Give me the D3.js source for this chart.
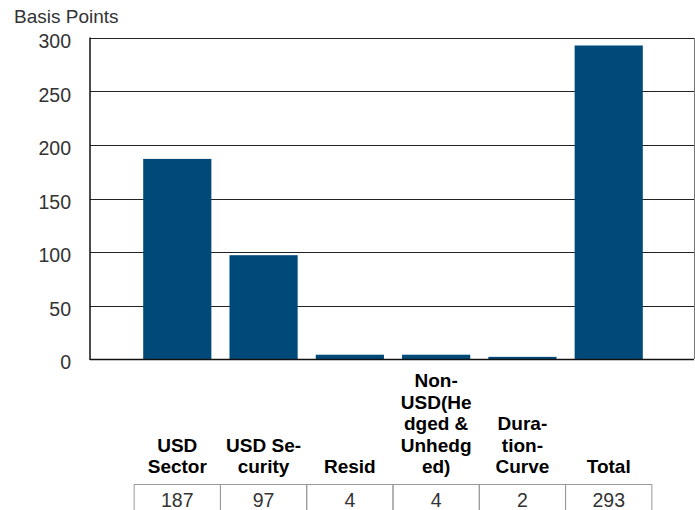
<!DOCTYPE html>
<html>
<head>
<meta charset="utf-8">
<script src="https://cdn.jsdelivr.net/npm/d3@7"></script>
<style>
  body { margin: 0; background: #fff; }
  text { font-family: "Liberation Sans", Arial, Helvetica, sans-serif; }
</style>
</head>
<body>
<script>
var width = 695, height = 510;

// data
var categories = ["USD Sector", "USD Security", "Resid", "Non-USD(Hedged & Unhedged)", "Duration-Curve", "Total"];
var headerLines = [["USD", "Sector"], ["USD Se-", "curity"], ["Resid"], ["Non-", "USD(He", "dged &", "Unhedg", "ed)"], ["Dura-", "tion-", "Curve"], ["Total"]];
var values = [187, 97, 4, 4, 2, 293];
var yTicks = [0, 50, 100, 150, 200, 250, 300];
var yTitle = "Basis Points";

var plotLeft = 90, plotRight = 694, plotTop = 38, plotBottom = 359;

var x = d3.scaleBand()
  .domain(categories)
  .range([plotLeft + 1, plotRight + 1])
  .paddingInner(0.21)
  .paddingOuter(0.605);

var y = d3.scaleLinear()
  .domain([0, 300])
  .range([plotBottom, plotTop]);

var svg = d3.select("body")
  .append("svg")
  .attr("width", width)
  .attr("height", height);

// grid lines
svg.selectAll(".grid")
  .data(yTicks)
  .enter()
  .append("line")
  .attr("class", "grid")
  .attr("x1", plotLeft)
  .attr("x2", plotRight)
  .attr("y1", function(d) { return Math.round(y(d)) + 0.5 })
  .attr("y2", function(d) { return Math.round(y(d)) + 0.5 })
  .attr("stroke", "#222")
  .attr("stroke-width", 1);

// right border
svg.append("line")
  .attr("x1", plotRight + 0.5).attr("x2", plotRight + 0.5)
  .attr("y1", plotTop).attr("y2", plotBottom)
  .attr("stroke", "#777");

// bars
svg.selectAll(".bar")
  .data(values)
  .enter()
  .append("rect")
  .attr("class", "bar")
  .attr("x", function(d, i) { return x(categories[i]) })
  .attr("width", x.bandwidth())
  .attr("y", function(d) { return y(d) })
  .attr("height", function(d) { return y(0) - y(d) })
  .attr("fill", "#004a7a");

// axis lines
svg.append("line")
  .attr("x1", plotLeft).attr("x2", plotLeft)
  .attr("y1", plotTop - 0.5).attr("y2", plotBottom + 1)
  .attr("stroke", "#111").attr("stroke-width", 1.5);
svg.append("line")
  .attr("x1", plotLeft).attr("x2", plotRight)
  .attr("y1", plotBottom + 0.5).attr("y2", plotBottom + 0.5)
  .attr("stroke", "#111").attr("stroke-width", 1.5);

// y tick labels
svg.selectAll(".ylab")
  .data(yTicks)
  .enter()
  .append("text")
  .attr("class", "ylab")
  .attr("x", 71)
  .attr("y", function(d) { return y(d) + 10 })
  .attr("text-anchor", "end")
  .attr("font-size", 19.5)
  .attr("fill", "#333")
  .text(function(d) { return d });

svg.append("text")
  .attr("x", 14)
  .attr("y", 23)
  .attr("font-size", 19)
  .attr("fill", "#333")
  .text(yTitle);

// column headers
var step = x.step();
var headers = svg.selectAll(".header")
  .data(headerLines)
  .enter()
  .append("text")
  .attr("class", "header")
  .attr("text-anchor", "middle")
  .attr("font-size", 19)
  .attr("font-weight", "bold")
  .attr("fill", "#000");

headers.each(function(lines, i) {
  var cx = x(categories[i]) + x.bandwidth() / 2;
  d3.select(this).selectAll("tspan")
    .data(lines)
    .enter()
    .append("tspan")
    .attr("x", cx)
    .attr("y", function(l, j) { return 473 - (lines.length - 1 - j) * 21.5 })
    .text(function(l) { return l });
});

// value table
var tableTop = 484.5;
svg.selectAll(".cell")
  .data(values)
  .enter()
  .append("rect")
  .attr("class", "cell")
  .attr("x", function(d, i) { return x(categories[i]) + x.bandwidth() / 2 - step / 2 })
  .attr("y", tableTop)
  .attr("width", step)
  .attr("height", 40)
  .attr("fill", "none")
  .attr("stroke", "#999")
  .attr("stroke-width", 1);

svg.selectAll(".cellText")
  .data(values)
  .enter()
  .append("text")
  .attr("class", "cellText")
  .attr("x", function(d, i) { return x(categories[i]) + x.bandwidth() / 2 })
  .attr("y", 507)
  .attr("text-anchor", "middle")
  .attr("font-size", 19.5)
  .attr("fill", "#333")
  .text(function(d) { return d });
</script>
</body>
</html>
